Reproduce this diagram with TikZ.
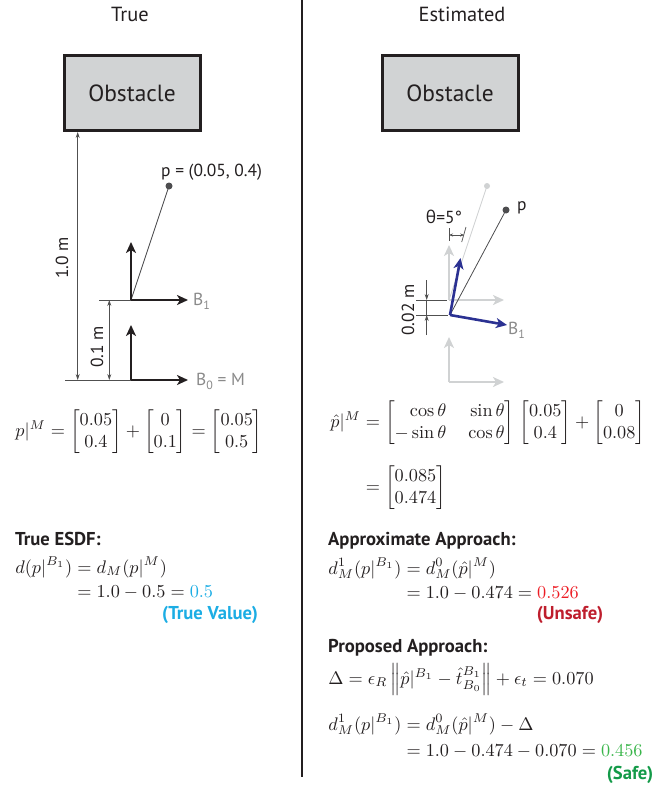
\RequirePackage{fix-cm}
\documentclass[tikz,border=0pt]{standalone}
\usepackage{amsmath}
\usepackage{fontspec}
\setsansfont{PT Sans}
\newfontfamily\grk{Open Sans}
\usetikzlibrary{arrows.meta}
\definecolor{ink}{HTML}{231F20}
\definecolor{dimgray}{HTML}{505050}
\definecolor{labgray}{HTML}{8A8A8A}
\definecolor{obsfill}{HTML}{D1D3D4}
\definecolor{ghost}{HTML}{D0D2D3}
\definecolor{navy}{HTML}{2B3192}
\definecolor{dotc}{HTML}{4D4D4F}
\definecolor{cyanC}{HTML}{1CADE4}
\definecolor{redL}{HTML}{ED1C24}
\definecolor{redD}{HTML}{BE1E2D}
\definecolor{greenL}{HTML}{39B54A}
\definecolor{greenD}{HTML}{139A48}
\newcommand\lowsub[1]{\raisebox{-0.22em}{\fontsize{12}{12}\selectfont #1}}
\tikzset{
  lbl/.style={font=\sffamily\fontsize{17.5}{20}\selectfont, text=ink, inner sep=0pt},
  glbl/.style={lbl, text=labgray},
  hdr/.style={font=\sffamily\fontsize{20.5}{24}\selectfont, text=ink, inner sep=0pt},
  mathtxt/.style={font=\fontsize{10}{12}\selectfont, scale=1.83, text=ink, inner sep=0pt},
  ttl/.style={font=\sffamily\bfseries\fontsize{18.7}{22}\selectfont, text=ink, inner sep=0pt},
  obst/.style={draw=ink, line width=3bp, fill=obsfill, minimum width=136bp, minimum height=75bp,
               font=\sffamily\fontsize{23.5}{26}\selectfont, text=ink},
  axarrow/.style={line width=2.6bp, -{Stealth[length=11bp,width=10bp,inset=3bp]}},
  dimline/.style={line width=0.7bp, draw=dimgray},
  dimone/.style={dimline, -{Stealth[length=6bp,width=4bp]}},
  dimtwo/.style={dimline, {Stealth[length=6bp,width=4bp]}-{Stealth[length=6bp,width=4bp]}},
  dimsmall/.style={dimline, {Stealth[length=4bp,width=3bp]}-{Stealth[length=4bp,width=3bp]}},
}
\begin{document}
\begin{tikzpicture}[x=1bp,y=-1bp]
\useasboundingbox (0,0) rectangle (672,786);
% divider
\draw[ink, line width=2bp] (302,0) -- (302,777);
% headers
\node[hdr] (hT) at (130,14) {True};
\node[hdr] (hE) at (462,14) {Estimated};
% obstacles
\node[obst] (obsL) at (132,93) {Obstacle};
\node[obst] (obsR) at (450,93) {Obstacle};

% ---------------- left diagram
\coordinate (B0o) at (131,380);
\coordinate (B1o) at (131,300);
\coordinate (P) at (169,186);
\coordinate (B0x) at (188,380);
\coordinate (B0y) at (131,325);
\coordinate (B1x) at (188,300);
\coordinate (B1y) at (131,242);
\coordinate (d1top) at (77.7,132);
\coordinate (d1bot) at (77.7,380);
\coordinate (e0) at (65,380);
\coordinate (e1) at (99,300);
\coordinate (d2top) at (109.3,300);
\coordinate (d2bot) at (109.3,380);
\draw[dimline] (e0) -- (B0o);
\draw[dimline] (e1) -- (B1o);
\draw[dimtwo] (d1top) -- (d1bot);
\draw[dimtwo] (d2top) -- (d2bot);
\draw[dotc, line width=0.8bp] (B1o) -- (P);
\fill[dotc] (P) circle[radius=3.5bp];
\draw[axarrow, ink] (B1o) -- (B1x);
\draw[axarrow, ink] (B1o) -- (B1y);
\draw[axarrow, ink] (B0o) -- (B0x);
\draw[axarrow, ink] (B0o) -- (B0y);
\node[lbl, rotate=90] (l10) at (62,258) {1.0 m};
\node[lbl, rotate=90] (l01) at (97,347) {0.1 m};
\node[lbl, anchor=west] (lp) at (161,172) {p = (0.05, 0.4)};
\node[glbl, anchor=west] (lb1) at (193,301) {B\lowsub{1}};
\node[glbl, anchor=west] (lb0) at (196,381) {B\lowsub{0} = M};

% ---------------- right diagram
\coordinate (G1) at (449,300);
\coordinate (G0) at (449,382);
\coordinate (Bo) at (450,315);
\coordinate (Pg) at (487,186);
\coordinate (Pb) at (506,210);
\coordinate (G1x) at (504,300);
\coordinate (G1y) at (449,245);
\coordinate (G0x) at (504,382);
\coordinate (G0y) at (449,337);
\coordinate (Bx) at (507,325);
\coordinate (By) at (460.5,258);
\draw[ghost, line width=0.9bp] (G1) -- (Pg);
\fill[ghost] (Pg) circle[radius=3bp];
\draw[axarrow, ghost] (G0) -- (G0x);
\draw[axarrow, ghost] (G0) -- (G0y);
\draw[axarrow, ghost] (G1) -- (G1x);
\draw[axarrow, ghost] (G1) -- (G1y);
\draw[dotc, line width=0.8bp] (Bo) -- (Pb);
\fill[dotc] (Pb) circle[radius=3.5bp];
\draw[axarrow, navy] (Bo) -- (Bx);
\draw[axarrow, navy] (Bo) -- (By);
% theta dimension
\coordinate (t1a) at (449,228);
\coordinate (t1b) at (449,241);
\coordinate (t2a) at (466,227);
\coordinate (t2b) at (461.7,242);
\coordinate (ta) at (449,235);
\coordinate (tb) at (464.2,235);
\draw[dimline] (t1a) -- (t1b);
\draw[dimline] (t2a) -- (t2b);
\draw[dimsmall] (ta) -- (tb);
\node[lbl] (lth) at (444,217) {{\grk θ}=5°};
% 0.02 m dimension
\coordinate (f1a) at (416,300);
\coordinate (f1b) at (447,300);
\coordinate (f2a) at (416,315);
\coordinate (f2b) at (448,315);
\coordinate (g1) at (426.7,280);
\coordinate (g2) at (426.7,300);
\coordinate (g3) at (426.7,315);
\coordinate (g4) at (426.7,335);
\draw[dimline] (f1a) -- (f1b);
\draw[dimline] (f2a) -- (f2b);
\draw[dimone] (g1) -- (g2);
\draw[dimline] (g2) -- (g3);
\draw[dimone] (g4) -- (g3);
\node[lbl, rotate=90] (l002) at (408,310) {0.02 m};
\node[lbl, anchor=west] (lpr) at (517,208) {p};
\node[glbl, anchor=west] (lb1r) at (508,330) {B\lowsub{1}};

% ---------------- equations left
\node[mathtxt, anchor=west] (eqL) at (15,432)
  {$p|^{M} = \begin{bmatrix}0.05\\0.4\end{bmatrix} + \begin{bmatrix}0\\0.1\end{bmatrix} = \begin{bmatrix}0.05\\0.5\end{bmatrix}$};
\node[ttl, anchor=base west] (tL) at (15,545) {True ESDF:};
\node[mathtxt, anchor=base west] (dL) at (15,573)
  {$\begin{aligned}[t] d(p|^{B_1}) &= d_M(p|^{M})\\[-1.3pt] &= 1.0 - 0.5 = \textcolor{cyanC}{0.5}\end{aligned}$};
\node[ttl, anchor=base, text=cyanC] (tv) at (210,619) {(True Value)};

% ---------------- equations right
\node[mathtxt, anchor=west] (eqR1) at (330,423)
  {$\hat{p}|^{M} = \left[\begin{array}{@{}r@{\hspace{12pt}}r@{}}\cos\theta & \sin\theta\\ -\sin\theta & \cos\theta\end{array}\right]\mkern2mu\begin{bmatrix}0.05\\0.4\end{bmatrix} + \begin{bmatrix}0\\0.08\end{bmatrix}$};
\node[mathtxt, anchor=west] (eqR2) at (330,488)
  {$\phantom{\hat{p}|^{M}} = \begin{bmatrix}0.085\\0.474\end{bmatrix}$};
\node[ttl, anchor=base west] (tA) at (328,545) {Approximate Approach:};
\node[mathtxt, anchor=base west] (dA) at (328,574)
  {$\begin{aligned}[t] d^1_M(p|^{B_1}) &= d^0_M(\hat{p}|^{M})\\[-1.8pt] &= 1.0 - 0.474 = \textcolor{redL}{0.526}\end{aligned}$};
\node[ttl, anchor=base, text=redD] (us) at (570,619) {(Unsafe)};
\node[ttl, anchor=base west] (tP) at (328,652) {Proposed Approach:};
\node[mathtxt, anchor=base west] (dP0) at (328,684)
  {$\Delta = \epsilon_R \left\| \hat{p}|^{B_1} - \hat{t}^{B_1}_{B_0} \right\| + \epsilon_t = 0.070$};
\node[mathtxt, anchor=base west] (dP) at (328,730)
  {$\begin{aligned}[t] d^1_M(p|^{B_1}) &= d^0_M(\hat{p}|^{M}) - \Delta\\[-0.3pt] &= 1.0 - 0.474 - 0.070 = \textcolor{greenL}{0.456}\end{aligned}$};
\node[ttl, anchor=base, text=greenD] (sf) at (630,779) {(Safe)};
\end{tikzpicture}
\end{document}
